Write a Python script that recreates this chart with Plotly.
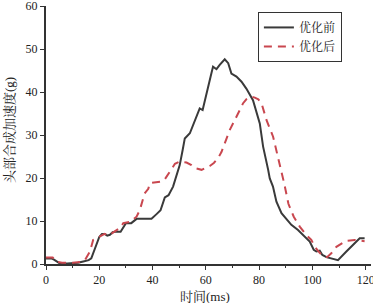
import plotly.graph_objects as go

before_x = [0, 2, 3, 4, 5, 8, 12, 14, 16, 17, 18, 19, 20, 21, 22, 23, 24, 25, 26, 28, 29, 30, 32, 33, 34, 36,
            39.6, 41.5, 43, 44.6, 46, 47.7, 49.6, 50.2, 51.3, 52.1, 54, 55.9, 57.7, 58.8, 60.3, 61.8, 62.7,
            64, 65.2, 67.1, 68.4, 69.6, 71.5, 73.4, 75.2, 77.7, 80.25, 81.5, 83.4, 84, 85.2, 86.5, 88.4,
            89.6, 92.1, 94.6, 97.1, 99, 100.5, 101.5, 102.75, 103.75, 105.25, 107.1, 109.6, 112.75, 116.5,
            117.75, 119.6]
before_y = [1.3, 1.3, 1.0, 0.5, 0.2, 0.1, 0.3, 0.6, 0.9, 1.3, 3, 5, 6.3, 7, 7, 6.6, 6.8, 7.4, 7.5, 7.5, 8.5,
            9.5, 9.5, 10.1, 10.5, 10.5, 10.5, 11.6, 12.5, 15.5, 16, 18, 21.9, 23, 26.5, 29.2, 30.4, 33.5,
            36.2, 35.8, 40.1, 43.6, 45.9, 45.3, 46.3, 47.6, 46.7, 44.3, 43.6, 42.4, 40.8, 38.1, 32.7, 27.3,
            21.9, 19.9, 18, 14.5, 11.8, 11, 9.1, 7.9, 6.3, 5.2, 3.3, 2.9, 3.1, 2.1, 1.6, 1.3, 0.9, 2.9, 5.2,
            6.0, 6.0]

after_x = [0, 2.5, 4, 6, 10, 13, 14.6, 16.5, 17.7, 20, 22, 23.5, 25, 26.5, 28, 29, 31.5, 34, 35.25, 37,
           38.4, 39, 41.5, 43.4, 44.5, 46.5, 48.4, 50, 52.75, 54.6, 56, 58.4, 61.5, 63, 64.6, 65.9, 69,
           72.75, 74, 75.2, 77.1, 78.4, 79.7, 80.9, 82.75, 85.25, 87.1, 88.4, 89.5, 91, 93, 95.25, 97.75,
           99.6, 100.9, 102.75, 104, 105.5, 107.1, 109, 112.75, 115.9, 119.6]
after_y = [1.5, 1.5, 0.5, 0.3, 0.3, 0.5, 0.9, 2.9, 5.6, 6.3, 7.0, 6.6, 7.2, 7.9, 8.5, 9.5, 9.8, 11, 12.6,
           16.4, 17.5, 18.8, 19.1, 19.2, 19.6, 21.5, 23.3, 23.8, 23.6, 23, 22.3, 21.9, 22.8, 23.5, 24.6,
           26.1, 31.2, 35.8, 37.4, 38.3, 38.9, 38.7, 38.3, 37.4, 33.5, 29.6, 25, 21.9, 18.5, 14, 11, 8.7,
           6.7, 5.6, 4.0, 2.6, 1.9, 1.6, 2.5, 4.0, 5.4, 5.6, 5.3]

names = ["优化前", "优化后"]
x_ticks = [0, 20, 40, 60, 80, 100, 120]
y_ticks = [0, 10, 20, 30, 40, 50, 60]
x_title = "时间(ms)"
y_title = "头部合成加速度(g)"

FONT = "Liberation Serif, Times New Roman, Noto Serif CJK SC, Noto Sans CJK SC"

fig = go.Figure()
fig.add_trace(go.Scatter(x=before_x, y=before_y, name=names[0], mode="lines",
                         line=dict(color="#3a3a3a", width=2)))
fig.add_trace(go.Scatter(x=after_x, y=after_y, name=names[1], mode="lines",
                         line=dict(color="#c9474f", width=2, dash="8px,6px")))

fig.update_layout(
    width=373, height=303,
    margin=dict(l=46, r=2, t=6, b=39, autoexpand=False),
    paper_bgcolor="white", plot_bgcolor="white",
    font=dict(family=FONT, size=12, color="#222"),
    showlegend=True,
    legend=dict(x=0.652, y=0.977, xanchor="left", yanchor="top",
                bordercolor="#333", borderwidth=1, bgcolor="white",
                font=dict(size=12, family=FONT, color="#222"), tracegroupgap=0,
                itemwidth=30),
    xaxis=dict(range=[0, 122], tickvals=x_ticks, automargin=False, ticklabeloverflow="allow",
               showgrid=False, zeroline=False, showline=True, linecolor="#333", linewidth=1.5,
               ticks="outside", ticklen=4, tickcolor="#333", tickwidth=1.2,
               minor=dict(dtick=10, ticks="outside", ticklen=2, tickcolor="#333"),
               tickfont=dict(size=12, family=FONT)),
    yaxis=dict(range=[0, 60], tickvals=y_ticks, automargin=False, ticklabeloverflow="allow",
               showgrid=False, zeroline=False, showline=True, linecolor="#333", linewidth=2,
               ticks="outside", ticklen=4, tickcolor="#333", tickwidth=1.2,
               tickfont=dict(size=12, family=FONT)),
    annotations=[
        dict(text=x_title, xref="paper", yref="paper", x=0.49, y=-0.127,
             xanchor="center", yanchor="middle", showarrow=False,
             font=dict(size=13, family=FONT, color="#222")),
        dict(text=y_title, xref="paper", yref="paper", x=-0.11, y=0.52,
             xanchor="center", yanchor="middle", showarrow=False, textangle=-90,
             font=dict(size=13, family=FONT, color="#222")),
    ],
)

fig.write_html("out.html", config={"displayModeBar": False},
               post_script="document.body.style.margin='0';document.body.style.padding='0';"
                           "document.documentElement.style.overflow='hidden';")
